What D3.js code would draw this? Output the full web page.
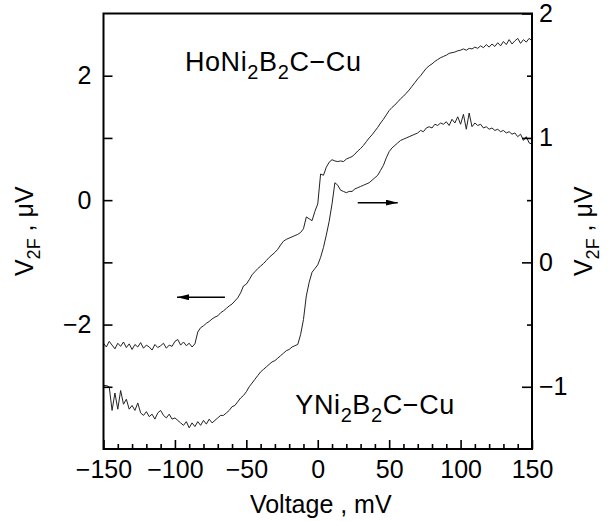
<!DOCTYPE html>
<html>
<head>
<meta charset="utf-8">
<script src="https://cdn.jsdelivr.net/npm/d3@7"></script>
<style>
  html, body { margin: 0; padding: 0; background: #fff; }
  svg { display: block; }
  text { font-family: "Liberation Sans", Arial, Helvetica, sans-serif; fill: #000; }
</style>
</head>
<body>
<svg id="chart" width="616" height="521"></svg>
<script>
// Bias voltage samples (mV), shared by both point-contact spectra
const voltage = [
  -150, -148, -146, -144, -142, -140, -138, -136, -134, -132,
  -130, -128, -126, -124, -122, -120, -118, -116, -114, -112,
  -110, -108, -106, -104, -102, -100, -98, -96, -94, -92,
  -90, -88, -86, -84, -82, -80, -78, -76, -74, -72,
  -70, -68, -66, -64, -62, -60, -58, -56, -54, -52,
  -50, -48, -46, -44, -42, -40, -38, -36, -34, -32,
  -30, -28, -26, -24, -22, -20, -18, -16, -14, -12,
  -10, -8, -6, -4, -2, 0, 2, 4, 6, 8,
  10, 12, 14, 16, 18, 20, 22, 24, 26, 28,
  30, 32, 34, 36, 38, 40, 42, 44, 46, 48,
  50, 52, 54, 56, 58, 60, 62, 64, 66, 68,
  70, 72, 74, 76, 78, 80, 82, 84, 86, 88,
  90, 92, 94, 96, 98, 100, 102, 104, 106, 108,
  110, 112, 114, 116, 118, 120, 122, 124, 126, 128,
  130, 132, 134, 136, 138, 140, 142, 144, 146, 148,
  150
];

// HoNi2B2C–Cu contact, V2F in µV (left axis)
const hoSignal = [
  -2.30, -2.36, -2.27, -2.33, -2.39, -2.30, -2.35, -2.28, -2.37, -2.31,
  -2.40, -2.32, -2.36, -2.29, -2.38, -2.33, -2.36, -2.41, -2.32, -2.37,
  -2.34, -2.30, -2.38, -2.33, -2.35, -2.27, -2.24, -2.33, -2.28, -2.34,
  -2.30, -2.36, -2.31, -2.12, -2.05, -2.02, -1.98, -1.95, -1.91, -1.88,
  -1.86, -1.81, -1.78, -1.74, -1.70, -1.67, -1.62, -1.57, -1.49, -1.38,
  -1.35, -1.28, -1.20, -1.15, -1.10, -1.06, -1.02, -0.97, -0.92, -0.88,
  -0.84, -0.79, -0.72, -0.66, -0.63, -0.61, -0.59, -0.57, -0.55, -0.52,
  -0.46, -0.27, -0.30, -0.33, -0.18, -0.06, 0.42, 0.40, 0.53, 0.61,
  0.65, 0.63, 0.62, 0.63, 0.62, 0.66, 0.68, 0.70, 0.74, 0.79,
  0.83, 0.88, 0.94, 1.00, 1.05, 1.11, 1.17, 1.24, 1.30, 1.37,
  1.44, 1.49, 1.53, 1.58, 1.63, 1.67, 1.72, 1.77, 1.83, 1.89,
  1.95, 2.00, 2.06, 2.12, 2.16, 2.19, 2.23, 2.26, 2.29, 2.31,
  2.33, 2.36, 2.37, 2.38, 2.40, 2.41, 2.43, 2.41, 2.44, 2.43,
  2.46, 2.44, 2.48, 2.45, 2.50, 2.46, 2.51, 2.47, 2.53, 2.48,
  2.55, 2.50, 2.58, 2.51, 2.56, 2.60, 2.52, 2.58, 2.54, 2.60,
  2.56
];

// YNi2B2C–Cu contact, V2F in µV (right axis)
const ySignal = [
  -0.99, -0.99, -1.00, -1.19, -1.05, -1.18, -1.03, -1.14, -1.10, -1.18,
  -1.15, -1.19, -1.13, -1.21, -1.23, -1.20, -1.24, -1.22, -1.26, -1.21,
  -1.19, -1.23, -1.25, -1.22, -1.26, -1.25, -1.27, -1.29, -1.31, -1.28,
  -1.33, -1.29, -1.32, -1.28, -1.31, -1.27, -1.30, -1.26, -1.29, -1.27,
  -1.25, -1.23, -1.23, -1.21, -1.19, -1.16, -1.15, -1.12, -1.09, -1.07,
  -1.04, -1.00, -0.97, -0.94, -0.91, -0.88, -0.86, -0.84, -0.82, -0.80,
  -0.79, -0.77, -0.75, -0.73, -0.71, -0.70, -0.68, -0.67, -0.66, -0.58,
  -0.46, -0.27, -0.16, -0.08, -0.05, -0.02, 0.04, 0.12, 0.22, 0.33,
  0.47, 0.64, 0.62, 0.58, 0.57, 0.56, 0.57, 0.57, 0.59, 0.60,
  0.61, 0.62, 0.63, 0.64, 0.66, 0.68, 0.70, 0.74, 0.78, 0.84,
  0.89, 0.92, 0.94, 0.96, 0.98, 0.99, 1.00, 1.01, 1.02, 1.03,
  1.04, 1.06, 1.05, 1.08, 1.09, 1.08, 1.11, 1.10, 1.12, 1.11,
  1.13, 1.10, 1.15, 1.12, 1.17, 1.11, 1.19, 1.07, 1.20, 1.09,
  1.12, 1.10, 1.11, 1.08, 1.09, 1.07, 1.08, 1.06, 1.07, 1.05,
  1.06, 1.04, 1.05, 1.03, 1.04, 1.01, 1.03, 0.98, 1.01, 0.96,
  0.95
];

// Axis ticks and labels
const xMajorTicks = [-150, -100, -50, 0, 50, 100, 150];
const xMinorTicks = [-140, -130, -120, -110, -90, -80, -70, -60, -40, -30, -20, -10,
                     10, 20, 30, 40, 60, 70, 80, 90, 110, 120, 130, 140];
const leftLabelTicks = [-2, 0, 2];
const leftAllTicks = [-3, -2, -1, 0, 1, 2];
const rightMajorTicks = [-1, 0, 1, 2];
const rightMinorTicks = [-0.5, 0.5, 1.5];

const xDomain = [-150, 150];
const leftDomain = [-4, 3];
const rightDomain = [-1.5, 2];

const svg = d3.select("#chart");
const plot = { left: 103.5, right: 532, top: 13.5, bottom: 449 };

const x = d3.scaleLinear().domain(xDomain).range([plot.left, plot.right]);
const yL = d3.scaleLinear().domain(leftDomain).range([plot.bottom, plot.top]);
const yR = d3.scaleLinear().domain(rightDomain).range([plot.bottom, plot.top]);

const fmt = d => (d < 0 ? "\u2212" + Math.abs(d) : String(d));

// Curves
const lineL = d3.line().x((d, i) => x(voltage[i])).y(d => yL(d));
const lineR = d3.line().x((d, i) => x(voltage[i])).y(d => yR(d));

svg.append("path").datum(hoSignal)
  .attr("d", lineL).attr("fill", "none")
  .attr("stroke", "#222").attr("stroke-width", 1).attr("stroke-linejoin", "round");
svg.append("path").datum(ySignal)
  .attr("d", lineR).attr("fill", "none")
  .attr("stroke", "#222").attr("stroke-width", 1).attr("stroke-linejoin", "round");

// Bottom axis: ticks point into the plot
const bottom = svg.append("g").attr("transform", `translate(0,${plot.bottom})`);
bottom.call(d3.axisBottom(x).tickValues(xMajorTicks).tickSize(-9).tickFormat(fmt));
bottom.append("g").call(d3.axisBottom(x).tickValues(xMinorTicks).tickSize(-5).tickFormat(""));
bottom.selectAll(".domain").remove();
bottom.selectAll("line").attr("stroke", "#000").attr("stroke-width", 1.6);
bottom.selectAll("text").attr("font-size", 25).attr("dy", "0.71em").attr("y", 11);

// Left axis
const left = svg.append("g").attr("transform", `translate(${plot.left},0)`);
left.call(d3.axisLeft(yL).tickValues(leftAllTicks).tickSize(-9)
  .tickFormat(d => leftLabelTicks.includes(d) ? fmt(d) : ""));
left.selectAll(".domain").remove();
left.selectAll("line").attr("stroke", "#000").attr("stroke-width", 1.6);
left.selectAll("text").attr("font-size", 25).attr("x", -12);

// Right axis
const right = svg.append("g").attr("transform", `translate(${plot.right},0)`);
right.call(d3.axisRight(yR).tickValues(rightMajorTicks).tickSize(-10).tickFormat(fmt));
right.append("g").call(d3.axisRight(yR).tickValues(rightMinorTicks).tickSize(-5).tickFormat(""));
right.selectAll(".domain").remove();
right.selectAll("line").attr("stroke", "#000").attr("stroke-width", 1.6);
right.selectAll("text").attr("font-size", 25).attr("x", 7);

// Frame
svg.append("rect")
  .attr("x", plot.left).attr("y", plot.top)
  .attr("width", plot.right - plot.left).attr("height", plot.bottom - plot.top)
  .attr("fill", "none").attr("stroke", "#000").attr("stroke-width", 2);

// Axis titles
svg.append("text")
  .attr("x", (plot.left + plot.right) / 2 + 3).attr("y", 513)
  .attr("text-anchor", "middle").attr("font-size", 25)
  .text("Voltage ,  mV");

function v2fLabel(g) {
  const t = g.append("text").attr("text-anchor", "middle").attr("font-size", 25);
  t.append("tspan").text("V");
  t.append("tspan").attr("font-size", 18).attr("dy", 7).text("2F");
  t.append("tspan").attr("dy", -7).text(" ,  \u03BCV");
}
v2fLabel(svg.append("g").attr("transform", `translate(33,${(plot.top + plot.bottom) / 2}) rotate(-90)`));
v2fLabel(svg.append("g").attr("transform", `translate(592,${(plot.top + plot.bottom) / 2}) rotate(-90)`));

// Sample labels
function compound(px, py, prefix) {
  const t = svg.append("text").attr("x", px).attr("y", py)
    .attr("font-size", 27).attr("letter-spacing", 0.6);
  t.append("tspan").text(prefix + "Ni");
  t.append("tspan").attr("font-size", 20).attr("dy", 8).text("2");
  t.append("tspan").attr("dy", -8).text("B");
  t.append("tspan").attr("font-size", 20).attr("dy", 8).text("2");
  t.append("tspan").attr("dy", -8).text("C\u2212Cu");
}
compound(x(-93), yL(2.07), "Ho");
compound(x(-15.7), yR(-1.22), "Y");

// Arrows indicating which axis each trace uses
const defs = svg.append("defs");
defs.append("marker").attr("id", "head")
  .attr("viewBox", "0 0 12 6").attr("refX", 12).attr("refY", 3)
  .attr("markerWidth", 12).attr("markerHeight", 6).attr("markerUnits", "userSpaceOnUse")
  .attr("orient", "auto")
  .append("path").attr("d", "M0,0 L12,3 L0,6 Z").attr("fill", "#000");

svg.append("line")
  .attr("x1", x(-65)).attr("x2", x(-98.5))
  .attr("y1", yL(-1.56)).attr("y2", yL(-1.56))
  .attr("stroke", "#000").attr("stroke-width", 1.5).attr("marker-end", "url(#head)");
svg.append("line")
  .attr("x1", x(28)).attr("x2", x(56))
  .attr("y1", yR(0.48)).attr("y2", yR(0.48))
  .attr("stroke", "#000").attr("stroke-width", 1.5).attr("marker-end", "url(#head)");
</script>
</body>
</html>
